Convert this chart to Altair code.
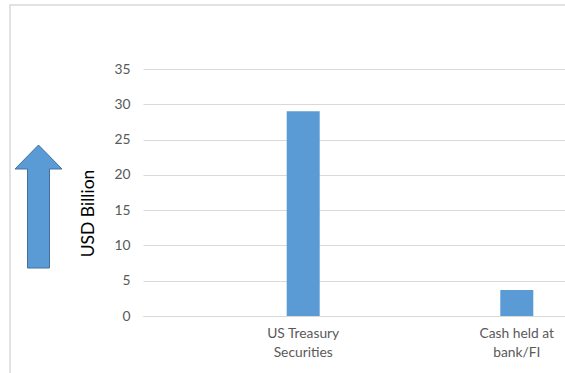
import altair as alt
import pandas as pd

categories = ["US Treasury Securities", "Cash held at bank/FI"]
values = [29.0, 3.7]
y_ticks = [0, 5, 10, 15, 20, 25, 30, 35]

df = pd.DataFrame({"category": categories, "value": values})

FONT = "Lato"
GRAY_TXT = "#595959"
GRID = "#D9D9D9"
BLUE = "#5B9BD5"

label_expr = (
    "datum.value == 'US Treasury Securities' ? ['US Treasury', 'Securities'] : "
    "datum.value == 'Cash held at bank/FI' ? ['Cash held at', 'bank/FI'] : datum.label"
)

bars = alt.Chart(df).mark_bar(size=33, color=BLUE).encode(
    x=alt.X(
        "category:N",
        sort=categories,
        scale=alt.Scale(range=[0, 534], paddingOuter=0.25, paddingInner=0),
        axis=alt.Axis(
            title=None,
            labelAngle=0,
            labelExpr=label_expr,
            labelFont=FONT,
            labelFontSize=13.8,
            labelColor=GRAY_TXT,
            labelLineHeight=19,
            labelBaseline="top",
            labelPadding=10,
            ticks=False,
            tickSize=0,
            domainColor=GRID,
            grid=False,
        ),
    ),
    y=alt.Y(
        "value:Q",
        scale=alt.Scale(domain=[0, 35], nice=False),
        axis=alt.Axis(
            title="USD Billion",
            values=y_ticks,
            labelFont=FONT,
            labelFontSize=13.8,
            labelColor=GRAY_TXT,
            labelPadding=13,
            ticks=False,
            tickSize=0,
            domain=False,
            gridColor=GRID,
            titleFont=FONT,
            titleFontSize=17.5,
            titleFontWeight="normal",
            titleColor="#000000",
            titleAngle=270,
            titleAlign="center",
            titleBaseline="middle",
            titleX=-55,
            titleY=144,
        ),
    ),
)

arrow_path = "M0,-1 L0.382,-0.61 L0.179,-0.61 L0.179,1 L-0.179,1 L-0.179,-0.61 L-0.382,-0.61 Z"
arrow = alt.Chart(df.head(1)).mark_point(
    shape=arrow_path, size=15129, filled=True, fill=BLUE, stroke="#41719C",
    strokeWidth=1, opacity=1, fillOpacity=1,
).encode(x=alt.value(-104.5), y=alt.value(137.5))

border = alt.Chart(df.head(1)).mark_rect(
    fill=None, stroke=GRID, strokeWidth=1.5,
).encode(x=alt.value(-133), x2=alt.value(460), y=alt.value(-64), y2=alt.value(340))

chart = alt.layer(border, bars, arrow).properties(
    width=422,
    height=247,
    autosize=alt.AutoSizeParams(type="none"),
    padding={"left": 143, "top": 69, "right": 0, "bottom": 57},
    background="white",
).configure_view(stroke=None)

chart.save("out.html", embed_options={"renderer": "svg", "actions": False})
